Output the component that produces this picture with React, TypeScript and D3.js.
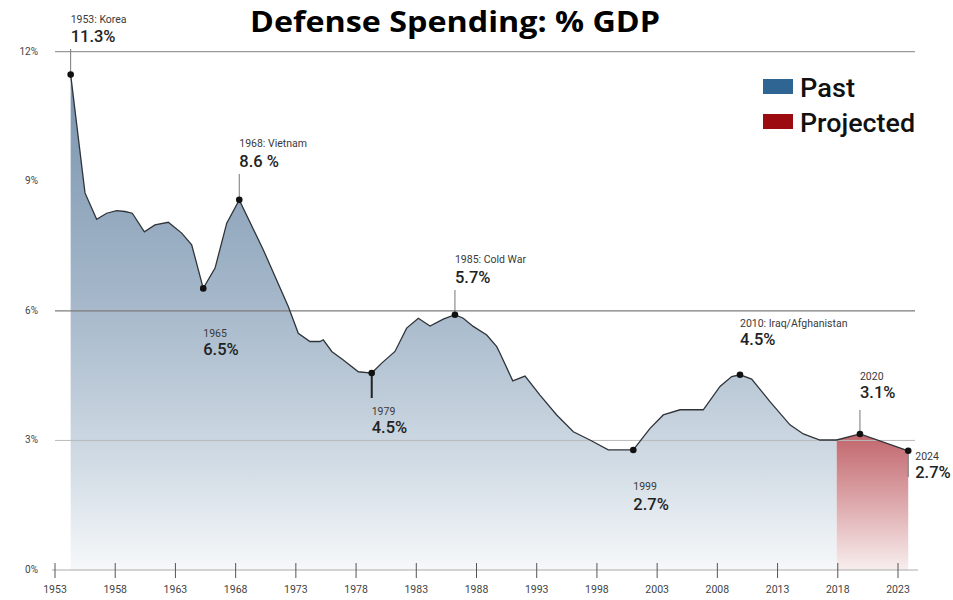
import React from "react";
import * as d3 from "d3";

// ---- data ----
const pastYears = [1954.3, 1955.49, 1956.46, 1957.29, 1958.12, 1958.81, 1959.42, 1960.42, 1961.3, 1962.41, 1963.52, 1964.35, 1965.31, 1966.29, 1967.26, 1968.3, 1970.3, 1972.37, 1973.2, 1974.17, 1975.0, 1975.28, 1975.98, 1976.94, 1978.19, 1979.3, 1980.13, 1981.23, 1982.2, 1983.17, 1984.14, 1985.24, 1986.21, 1986.9, 1987.73, 1988.85, 1989.68, 1989.95, 1991.01, 1992.03, 1993.27, 1994.66, 1996.04, 1997.42, 1998.94, 2001.02, 2002.41, 2003.51, 2004.9, 2006.83, 2008.22, 2009.19, 2009.88, 2010.85, 2012.37, 2014.03, 2015.14, 2016.52, 2017.91];
const pastValues = [11.47, 8.73, 8.12, 8.26, 8.32, 8.3, 8.26, 7.83, 7.99, 8.05, 7.8, 7.53, 6.52, 6.99, 8.03, 8.57, 7.41, 6.1, 5.48, 5.29, 5.29, 5.33, 5.06, 4.86, 4.59, 4.56, 4.79, 5.06, 5.6, 5.83, 5.65, 5.81, 5.91, 5.83, 5.64, 5.44, 5.17, 5.02, 4.38, 4.49, 4.05, 3.59, 3.2, 3.01, 2.78, 2.78, 3.28, 3.59, 3.71, 3.71, 4.25, 4.48, 4.52, 4.42, 3.9, 3.36, 3.15, 3.01, 3.01];
const projYears = [2017.91, 2019.84, 2023.85];
const projValues = [3.01, 3.15, 2.76];

const xTickYears = [1953, 1958, 1963, 1968, 1973, 1978, 1983, 1988, 1993, 1998, 2003, 2008, 2013, 2018, 2023];
const xTickLabels = ["1953", "1958", "1963", "1968", "1973", "1978", "1983", "1988", "1993", "1998", "2003", "2008", "2013", "2018", "2023"];
const yTicks = [0, 3, 6, 9, 12];
const yTickLabels = ["0%", "3%", "6%", "9%", "12%"];

const noteYears = [1954.3, 1965.31, 1968.3, 1979.3, 1986.21, 2001.02, 2009.88, 2019.84, 2023.85];
const noteValues = [11.47, 6.52, 8.57, 4.56, 5.91, 2.78, 4.52, 3.15, 2.76];
const noteLabels = ["1953: Korea", "1965", "1968: Vietnam", "1979", "1985: Cold War", "1999", "2010: Iraq/Afghanistan", "2020", "2024"];
const noteValueTexts = ["11.3%", "6.5%", "8.6 %", "4.5%", "5.7%", "2.7%", "4.5%", "3.1%", "2.7%"];

const legendLabels = ["Past", "Projected"];
const title = "Defense Spending: % GDP";

// ---- layout (positions / styles) ----
const W = 953;
const H = 600;
const noteLayout = [
  { lab: 23, val: 42, dx: 0, leader: 49, lw: 1 },
  { lab: 337, val: 355, dx: 0, leader: null, lw: 1 },
  { lab: 147, val: 167, dx: 0, leader: 174, lw: 1 },
  { lab: 415, val: 433, dx: 0, leader: 398, lw: 2 },
  { lab: 263, val: 283, dx: 0, leader: 290, lw: 1 },
  { lab: 490, val: 510, dx: 0, leader: null, lw: 1 },
  { lab: 327, val: 345, dx: 0, leader: null, lw: 1 },
  { lab: 380, val: 398, dx: 0, leader: 410, lw: 1 },
  { lab: 460, val: 478, dx: 7, leader: 477, lw: 1 },
];
const legendColors = ["#2f6592", "#9b0b10"];

export default function App() {
  const x = d3.scaleLinear().domain([1953, 2023]).range([55, 898]);
  const y = d3.scaleLinear().domain([0, 12]).range([570, 51.7]);

  const past = pastYears.map((yr, i) => [yr, pastValues[i]] as [number, number]);
  const proj = projYears.map((yr, i) => [yr, projValues[i]] as [number, number]);
  const all = past.concat(proj.slice(1));

  const area = d3
    .area<[number, number]>()
    .x((d) => x(d[0]))
    .y0(y(0))
    .y1((d) => y(d[1]));
  const line = d3
    .line<[number, number]>()
    .x((d) => x(d[0]))
    .y((d) => y(d[1]));

  const gridStyle: Record<number, { stroke: string; w: number } | null> = {
    12: { stroke: "#9a9a9a", w: 1.2 },
    9: null,
    6: { stroke: "#7c7c7c", w: 1.3 },
    3: { stroke: "#b9b9b9", w: 1 },
  };

  const small = { fontFamily: "Roboto, 'DejaVu Sans', sans-serif", fontSize: 10.5, fill: "#3a3a3a" };
  const big = { fontFamily: "Roboto, 'DejaVu Sans', sans-serif", fontSize: 16.5, fill: "#222", fontWeight: 500 };

  return (
    <svg width={W} height={H} style={{ position: "absolute", left: 0, top: 0, background: "#fff" }}>
      <defs>
        <linearGradient id="pastGrad" gradientUnits="userSpaceOnUse" x1="0" x2="0" y1={y(12)} y2={y(0)}>
          <stop offset="0" stopColor="#7590ab" />
          <stop offset="0.5" stopColor="#a7b9cb" />
          <stop offset="0.8" stopColor="#d2dce5" />
          <stop offset="1" stopColor="#f6f8fa" />
        </linearGradient>
        <linearGradient id="projGrad" gradientUnits="userSpaceOnUse" x1="0" x2="0" y1={y(3.2)} y2={y(0)}>
          <stop offset="0" stopColor="#c0636a" />
          <stop offset="0.5" stopColor="#dca6a9" />
          <stop offset="1" stopColor="#f8eeee" />
        </linearGradient>
      </defs>

      {/* title */}
      <text
        x={250}
        y={32}
        fontFamily="'Open Sans', sans-serif"
        fontWeight={700}
        fontSize={28}
        fill="#000"
        textLength={410}
        lengthAdjust="spacingAndGlyphs"
      >
        {title}
      </text>

      {/* areas */}
      <path d={area(past) || ""} fill="url(#pastGrad)" />
      <path d={area(proj) || ""} fill="url(#projGrad)" />

      {/* gridlines */}
      {yTicks
        .filter((t) => t > 0 && gridStyle[t])
        .map((t) => (
          <line key={t} x1={55} x2={915} y1={y(t)} y2={y(t)} stroke={gridStyle[t]!.stroke} strokeWidth={gridStyle[t]!.w} />
        ))}

      {/* y labels */}
      {yTicks.map((t, i) => (
        <text key={t} x={38} y={y(t) + 3} textAnchor="end" {...small} fontSize={10} fill="#444">
          {yTickLabels[i]}
        </text>
      ))}

      {/* x axis */}
      <line x1={52} x2={918} y1={y(0)} y2={y(0)} stroke="#aaa" strokeWidth={1} />
      {xTickYears.map((t, i) => (
        <g key={t}>
          <line x1={x(t)} x2={x(t)} y1={y(0) - 7} y2={y(0) + 8} stroke="#555" strokeWidth={1} />
          <text x={x(t)} y={y(0) + 23} textAnchor="middle" {...small} fontSize={10.5} fill="#444">
            {xTickLabels[i]}
          </text>
        </g>
      ))}

      {/* line */}
      <path d={line(all) || ""} fill="none" stroke="#2f3438" strokeWidth={1.3} />

      {/* annotations */}
      {noteYears.map((yr, i) => {
        const L = noteLayout[i];
        const px = x(yr);
        const py = y(noteValues[i]);
        return (
          <g key={i}>
            {L.leader !== null && (
              <line x1={px} x2={px} y1={L.leader} y2={py} stroke={L.lw > 1 ? "#222" : "#777"} strokeWidth={L.lw} />
            )}
            <circle cx={px} cy={py} r={3.3} fill="#111" />
            <text x={px + L.dx} y={L.lab} {...small}>
              {noteLabels[i]}
            </text>
            <text x={px + L.dx} y={L.val} {...big}>
              {noteValueTexts[i]}
            </text>
          </g>
        );
      })}

      {/* legend */}
      {legendLabels.map((lab, i) => (
        <g key={lab}>
          <rect x={763} y={79 + i * 35} width={30} height={15} fill={legendColors[i]} />
          <text
            x={800}
            y={97 + i * 35}
            fontFamily="Roboto, sans-serif"
            fontSize={25}
            fontWeight={500}
            fill="#111"
            textLength={i === 0 ? 55 : 115}
            lengthAdjust="spacingAndGlyphs"
          >
            {lab}
          </text>
        </g>
      ))}
    </svg>
  );
}
